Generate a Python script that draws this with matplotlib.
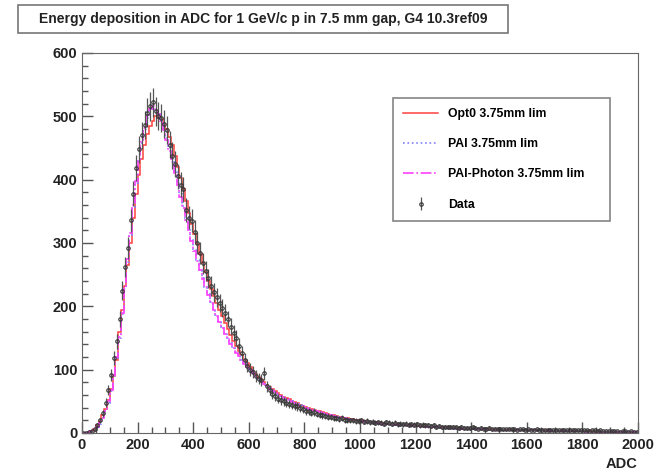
import numpy as np
import matplotlib
matplotlib.use("Agg")
import matplotlib.pyplot as plt
from matplotlib.patches import Rectangle
from matplotlib.ticker import MultipleLocator

plt.rcParams['font.family'] = ['Liberation Sans', 'DejaVu Sans']
plt.rcParams['font.weight'] = 'bold'

# 200 bins of 10 ADC from 0 to 2000
edges = np.arange(0, 2001, 10)
centers = edges[:-1] + 5

# measured counts per bin
data = [
    0, 0, 1, 3, 6, 12, 20, 31, 48, 68,
    92, 118, 145, 180, 225, 262, 292, 336, 378, 418,
    448, 470, 486, 506, 516, 522, 508, 500, 497, 488,
    478, 455, 438, 425, 405, 392, 385, 352, 340, 335,
    318, 300, 284, 268, 256, 244, 232, 222, 214, 205,
    198, 190, 180, 168, 158, 150, 138, 126, 116, 106,
    100, 96, 90, 86, 84, 94, 74, 68, 62, 58,
    54, 52, 50, 48, 46, 44, 43, 42, 40, 38,
    35, 34, 32, 33, 30, 29, 28, 27, 26, 25,
    24, 23, 22, 23, 21, 21, 20, 20, 19, 19,
    20, 18, 19, 17, 18, 16, 17, 16, 15, 17,
    16, 15, 16, 14, 15, 14, 15, 13, 14, 13,
    14, 12, 13, 12, 12, 11, 12, 10, 11, 10,
    10, 9, 10, 9, 9, 8, 9, 8, 8, 8,
    9, 8, 7, 8, 7, 7, 8, 6, 7, 7,
    7, 6, 6, 7, 6, 6, 5, 6, 6, 5,
    6, 5, 5, 6, 5, 5, 4, 5, 5, 4,
    5, 4, 5, 4, 4, 5, 4, 4, 4, 4,
    4, 4, 3, 4, 4, 3, 4, 3, 3, 3,
    3, 3, 3, 2, 3, 3, 2, 3, 2, 2,
]

opt0 = [
    0, 0, 1, 3, 7, 12, 19, 28, 38, 52,
    70, 90, 115, 160, 195, 232, 265, 300, 340, 378,
    408, 432, 455, 472, 485, 492, 500, 498, 495, 488,
    480, 468, 455, 438, 420, 402, 385, 366, 348, 330,
    314, 298, 282, 268, 254, 240, 228, 216, 205, 194,
    184, 174, 164, 155, 146, 138, 130, 123, 116, 110,
    104, 98, 93, 88, 84, 80, 76, 72, 69, 66,
    63, 60, 57, 55, 53, 51, 49, 47, 45, 43,
    41, 40, 38, 37, 35, 34, 33, 31, 30, 29,
    28, 27, 26, 25, 24, 23, 22, 22, 21, 20,
    20, 19, 19, 18, 18, 17, 17, 16, 16, 15,
    15, 15, 14, 14, 13, 13, 13, 12, 12, 12,
    11, 11, 11, 10, 10, 10, 10, 9, 9, 9,
    9, 8, 8, 8, 8, 8, 7, 7, 7, 7,
    7, 7, 6, 6, 6, 6, 6, 6, 5, 5,
    5, 5, 5, 5, 5, 5, 5, 4, 4, 4,
    4, 4, 4, 4, 4, 4, 4, 4, 3, 3,
    3, 3, 3, 3, 3, 3, 3, 3, 3, 3,
    3, 3, 3, 3, 2, 2, 2, 2, 2, 2,
    2, 2, 2, 2, 2, 2, 2, 2, 2, 2,
]

pai = [
    0, 0, 1, 2, 5, 9, 15, 23, 34, 48,
    66, 90, 118, 150, 188, 228, 270, 312, 355, 395,
    430, 458, 480, 497, 508, 512, 510, 503, 493, 480,
    465, 450, 432, 414, 396, 377, 358, 340, 322, 305,
    289, 273, 258, 244, 231, 219, 207, 196, 186, 176,
    167, 158, 150, 142, 135, 128, 122, 116, 110, 105,
    100, 95, 90, 86, 82, 78, 74, 71, 68, 65,
    62, 59, 57, 54, 52, 50, 48, 46, 44, 42,
    40, 39, 37, 36, 34, 33, 32, 30, 29, 28,
    27, 26, 25, 24, 23, 22, 22, 21, 20, 19,
    19, 18, 18, 17, 17, 16, 16, 15, 15, 15,
    14, 14, 13, 13, 13, 12, 12, 12, 11, 11,
    11, 10, 10, 10, 10, 9, 9, 9, 9, 8,
    8, 8, 8, 8, 7, 7, 7, 7, 7, 6,
    6, 6, 6, 6, 6, 6, 5, 5, 5, 5,
    5, 5, 5, 5, 5, 4, 4, 4, 4, 4,
    4, 4, 4, 4, 4, 4, 3, 3, 3, 3,
    3, 3, 3, 3, 3, 3, 3, 3, 3, 3,
    3, 2, 2, 2, 2, 2, 2, 2, 2, 2,
    2, 2, 2, 2, 2, 2, 2, 2, 2, 2,
]

pai_photon = [
    0, 0, 1, 3, 5, 10, 16, 24, 35, 50,
    68, 92, 120, 152, 190, 232, 274, 316, 360, 398,
    433, 460, 482, 500, 512, 516, 512, 504, 492, 478,
    462, 446, 428, 410, 392, 373, 355, 337, 320, 303,
    287, 272, 257, 243, 230, 218, 206, 195, 185, 175,
    166, 157, 149, 141, 134, 127, 121, 115, 109, 104,
    99, 94, 90, 85, 81, 77, 74, 70, 67, 64,
    61, 59, 56, 54, 51, 49, 47, 45, 43, 42,
    40, 38, 37, 35, 34, 33, 31, 30, 29, 28,
    27, 26, 25, 24, 23, 22, 21, 21, 20, 19,
    19, 18, 18, 17, 16, 16, 16, 15, 15, 14,
    14, 14, 13, 13, 12, 12, 12, 12, 11, 11,
    11, 10, 10, 10, 9, 9, 9, 9, 9, 8,
    8, 8, 8, 7, 7, 7, 7, 7, 7, 6,
    6, 6, 6, 6, 6, 5, 5, 5, 5, 5,
    5, 5, 5, 5, 4, 4, 4, 4, 4, 4,
    4, 4, 4, 4, 4, 3, 3, 3, 3, 3,
    3, 3, 3, 3, 3, 3, 3, 3, 3, 3,
    3, 2, 2, 2, 2, 2, 2, 2, 2, 2,
    2, 2, 2, 2, 2, 2, 2, 2, 2, 2,
]

title = "Energy deposition in ADC for 1 GeV/c p in 7.5 mm gap, G4 10.3ref09"

fig = plt.figure(figsize=(6.6, 4.72), dpi=100)
ax = fig.add_axes([82/660, 1-433/472, (638-82)/660, (433-53)/472])

ax.stairs(opt0, edges, color='#ff4040', lw=1.1, label='Opt0 3.75mm lim')
ax.stairs(pai, edges, color='#8080ff', lw=1.2, ls=':', label='PAI 3.75mm lim')
ax.stairs(pai_photon, edges, color='#ff40ff', lw=1.2, ls='-.', label='PAI-Photon 3.75mm lim')
d = np.array(data, dtype=float)
ax.errorbar(centers, d, yerr=np.sqrt(d), fmt='o', ms=2.5, mfc='none', mec='#333333',
            color='#444444', ecolor='#555555', elinewidth=0.9, capsize=0, mew=0.8,
            label='Data')

ax.set_xlim(0, 2000)
ax.set_ylim(0, 600)
ax.xaxis.set_major_locator(MultipleLocator(200))
ax.xaxis.set_minor_locator(MultipleLocator(50))
ax.yaxis.set_major_locator(MultipleLocator(100))
ax.yaxis.set_minor_locator(MultipleLocator(20))
ax.tick_params(which='both', direction='in', top=False, right=False, colors='#555555',
               labelcolor='#222222', labelsize=10.5)
ax.tick_params(which='major', length=8, width=1)
ax.tick_params(which='minor', length=4, width=1)
for s in ax.spines.values():
    s.set_color('#666666')
ax.set_xlabel('ADC', loc='right', fontsize=10.5, fontweight='bold', color='#222222')

leg = ax.legend(loc='upper left', bbox_to_anchor=(393/660, 1-217/472, (610-393)/660, (217-98)/472),
                bbox_transform=fig.transFigure, mode='expand', fontsize=8.8, frameon=True,
                fancybox=False, handlelength=2.9, labelspacing=1.5, borderpad=0.8,
                borderaxespad=0)
leg.get_frame().set_edgecolor('#666666')
leg.get_frame().set_linewidth(1.2)

fig.patches.append(Rectangle((18/660, 1-33/472), 490/660, 28/472, transform=fig.transFigure,
                             facecolor='white', edgecolor='#777777', lw=1.2))
fig.text(263/660, 1-19/472, title, ha='center', va='center', fontsize=10, fontweight='bold',
         color='#222222')

plt.savefig('out.png', dpi=100)
